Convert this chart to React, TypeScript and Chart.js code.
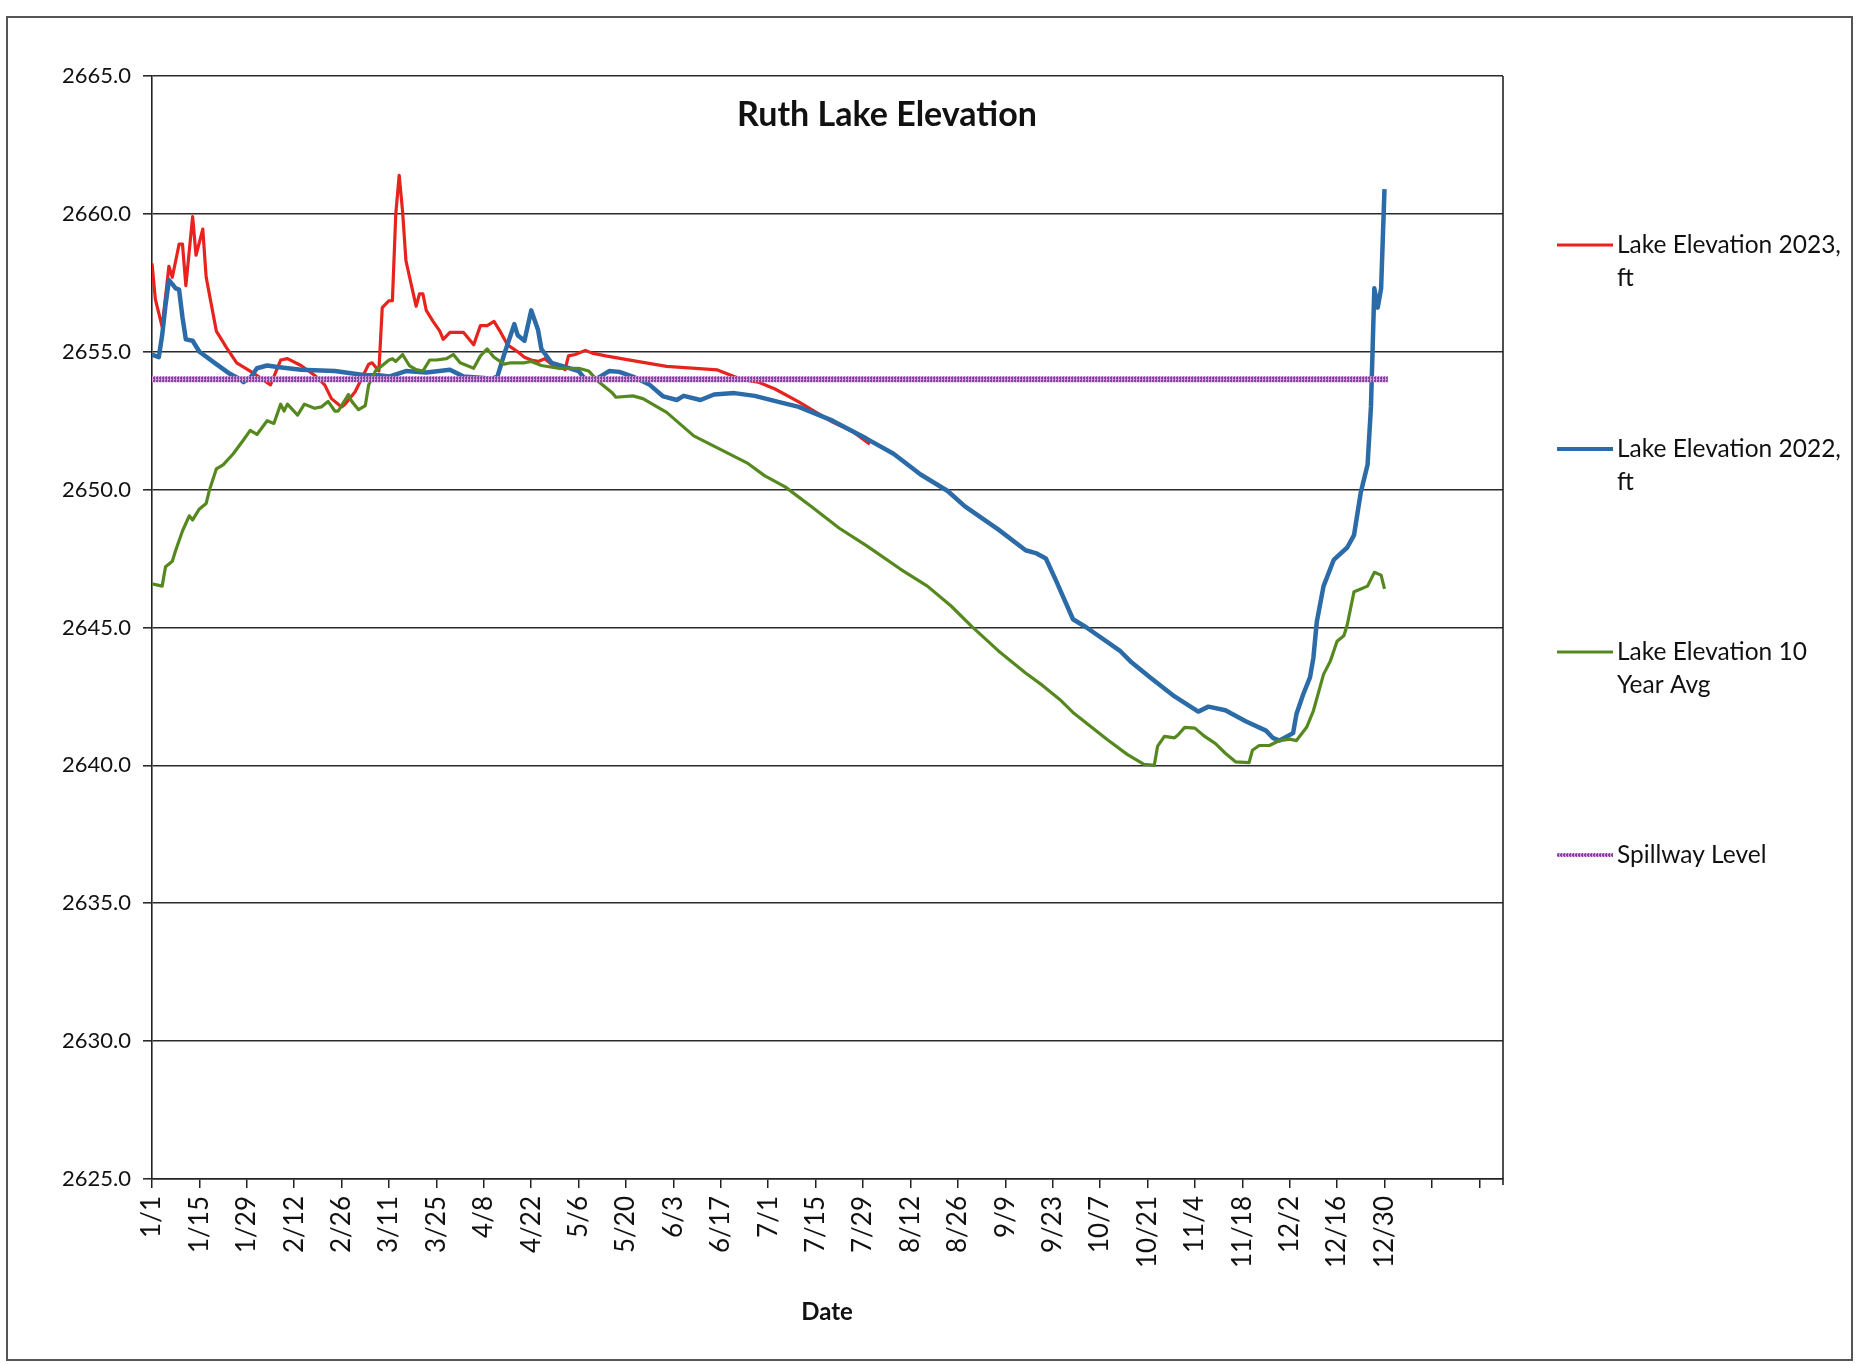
import React, { useEffect, useRef } from 'react';
import { Chart, registerables } from 'chart.js';

Chart.register(...registerables);

const chartTitle = 'Ruth Lake Elevation';
const xAxisTitle = 'Date';

const xTickLabels = ['1/1', '1/15', '1/29', '2/12', '2/26', '3/11', '3/25', '4/8', '4/22', '5/6', '5/20', '6/3', '6/17', '7/1', '7/15', '7/29', '8/12', '8/26', '9/9', '9/23', '10/7', '10/21', '11/4', '11/18', '12/2', '12/16', '12/30'];
const tickStepDays = 14;
const axisDayMax = 399;
const yMin = 2625;
const yMax = 2665;
const yStep = 5;

const seriesNames = ['Lake Elevation 2023, ft', 'Lake Elevation 2022, ft', 'Lake Elevation 10 Year Avg', 'Spillway Level'];

// Lake Elevation 2023, ft (day of year index, elevation)
const days2023 = [0, 1, 3, 5, 6, 8, 9, 10, 12, 13, 15, 16, 18, 19, 22, 25, 29, 32, 35, 38, 40, 44, 48, 51, 53, 56, 57, 60, 62, 64, 65, 67, 68, 70, 71, 72, 73, 74, 75, 77, 78, 79, 80, 81, 83, 85, 86, 88, 90, 92, 93, 95, 97, 99, 101, 103, 105, 108, 110, 112, 114, 116, 118, 121, 122, 123, 125, 128, 130, 134, 142, 152, 167, 174, 179, 184, 191, 201, 207, 212];
const elev2023 = [2658.2, 2656.9, 2655.9, 2658.1, 2657.7, 2658.9, 2658.9, 2657.4, 2659.9, 2658.5, 2659.45, 2657.7, 2656.4, 2655.75, 2655.15, 2654.6, 2654.3, 2654.05, 2653.8, 2654.7, 2654.75, 2654.5, 2654.15, 2653.8, 2653.3, 2653.0, 2653.1, 2653.55, 2654.05, 2654.55, 2654.6, 2654.3, 2656.6, 2656.85, 2656.85, 2660.0, 2661.4, 2660.1, 2658.3, 2657.2, 2656.65, 2657.1, 2657.1, 2656.5, 2656.1, 2655.75, 2655.45, 2655.7, 2655.7, 2655.7, 2655.55, 2655.25, 2655.95, 2655.95, 2656.1, 2655.7, 2655.25, 2655.0, 2654.8, 2654.7, 2654.65, 2654.75, 2654.55, 2654.45, 2654.35, 2654.85, 2654.9, 2655.05, 2654.95, 2654.85, 2654.68, 2654.47, 2654.34, 2654.0, 2653.9, 2653.65, 2653.18, 2652.45, 2652.1, 2651.65];

// Lake Elevation 2022, ft
const days2022 = [0, 2, 3, 4, 5, 6, 7, 8, 9, 10, 12, 14, 19, 23, 26, 27, 29, 31, 34, 37, 44, 54, 63, 67, 70, 75, 81, 88, 92, 98, 100, 102, 104, 107, 108, 110, 112, 114, 115, 118, 122, 126, 128, 131, 135, 138, 142, 147, 151, 155, 157, 162, 166, 172, 178, 185, 191, 201, 211, 219, 227, 235, 240, 250, 258, 261, 264, 267, 272, 276, 286, 289, 295, 302, 309, 312, 317, 323, 329, 331, 333, 337, 338, 340, 342, 343, 344, 346, 349, 353, 355, 357, 359, 360, 361, 362, 363, 364];
const elev2022 = [2654.9, 2654.8, 2655.6, 2656.7, 2657.6, 2657.45, 2657.3, 2657.25, 2656.25, 2655.45, 2655.4, 2655.0, 2654.55, 2654.2, 2654.0, 2653.9, 2654.05, 2654.4, 2654.5, 2654.45, 2654.35, 2654.3, 2654.15, 2654.15, 2654.1, 2654.3, 2654.25, 2654.35, 2654.1, 2654.05, 2654.0, 2654.1, 2654.9, 2656.0, 2655.6, 2655.4, 2656.5, 2655.8, 2655.1, 2654.6, 2654.45, 2654.3, 2654.0, 2654.0, 2654.3, 2654.27, 2654.1, 2653.8, 2653.38, 2653.25, 2653.4, 2653.25, 2653.45, 2653.5, 2653.4, 2653.18, 2653.0, 2652.5, 2651.85, 2651.3, 2650.55, 2649.95, 2649.4, 2648.55, 2647.8, 2647.7, 2647.5, 2646.7, 2645.3, 2645.0, 2644.14, 2643.77, 2643.17, 2642.5, 2641.95, 2642.13, 2642.0, 2641.6, 2641.26, 2641.0, 2640.9, 2641.17, 2641.86, 2642.58, 2643.19, 2643.9, 2645.2, 2646.5, 2647.45, 2647.9, 2648.35, 2649.9, 2650.9, 2653.0, 2657.3, 2656.6, 2657.3, 2660.9];

// Lake Elevation 10 Year Avg
const daysAvg = [0, 3, 4, 6, 7, 9, 11, 12, 14, 16, 17, 19, 21, 24, 27, 29, 31, 34, 36, 38, 39, 40, 43, 45, 48, 50, 52, 54, 55, 58, 59, 61, 63, 64, 66, 67, 70, 71, 72, 74, 76, 78, 80, 82, 84, 87, 89, 91, 95, 97, 99, 101, 104, 106, 110, 112, 115, 120, 126, 129, 132, 136, 137, 142, 145, 152, 160, 168, 176, 181, 187, 195, 203, 211, 221, 229, 236, 242, 250, 258, 263, 268, 272, 282, 288, 293, 296, 297, 299, 302, 303, 305, 308, 311, 314, 317, 320, 324, 325, 327, 330, 333, 336, 338, 341, 343, 346, 348, 350, 352, 353, 355, 357, 359, 361, 363, 364];
const elevAvg = [2646.58, 2646.5, 2647.2, 2647.4, 2647.8, 2648.5, 2649.05, 2648.9, 2649.3, 2649.5, 2650.0, 2650.75, 2650.9, 2651.3, 2651.8, 2652.15, 2652.0, 2652.5, 2652.4, 2653.1, 2652.85, 2653.1, 2652.7, 2653.1, 2652.95, 2653.0, 2653.2, 2652.85, 2652.85, 2653.45, 2653.2, 2652.9, 2653.05, 2653.8, 2654.3, 2654.4, 2654.7, 2654.75, 2654.65, 2654.9, 2654.5, 2654.35, 2654.3, 2654.7, 2654.7, 2654.75, 2654.9, 2654.6, 2654.4, 2654.85, 2655.1, 2654.8, 2654.55, 2654.6, 2654.6, 2654.65, 2654.5, 2654.4, 2654.4, 2654.3, 2653.9, 2653.5, 2653.35, 2653.4, 2653.3, 2652.8, 2651.95, 2651.45, 2650.95, 2650.5, 2650.1, 2649.36, 2648.6, 2647.97, 2647.12, 2646.5, 2645.78, 2645.05, 2644.15, 2643.35, 2642.9, 2642.4, 2641.92, 2640.95, 2640.4, 2640.04, 2640.0, 2640.7, 2641.05, 2641.0, 2641.1, 2641.38, 2641.35, 2641.04, 2640.8, 2640.44, 2640.13, 2640.1, 2640.55, 2640.72, 2640.72, 2640.9, 2640.95, 2640.9, 2641.38, 2641.98, 2643.3, 2643.78, 2644.5, 2644.7, 2645.1, 2646.3, 2646.4, 2646.5, 2647.0, 2646.9, 2646.4];

// Spillway Level
const daysSpill = [0, 365];
const elevSpill = [2654.0, 2654.0];

const seriesColors = ['#e8221c', '#2b6ba8', '#55891f', '#7b4b9c'];
const seriesWidths = [3.2, 4.5, 3.2, 6];

const FONT = 'Lato, "Open Sans", sans-serif';

function toPoints(days: number[], values: number[]) {
  return days.map((d, i) => ({ x: d, y: values[i] }));
}

export default function App() {
  const ref = useRef<HTMLCanvasElement>(null);

  useEffect(() => {
    const canvas = ref.current;
    if (!canvas) return;
    const ctx = canvas.getContext('2d')!;

    const tile = document.createElement('canvas');
    tile.width = 3;
    tile.height = 3;
    const tctx = tile.getContext('2d')!;
    tctx.fillStyle = '#7b4b9c';
    tctx.fillRect(0, 0, 3, 3);
    tctx.fillStyle = '#e39ae2';
    tctx.fillRect(2, 0, 1, 3);
    tctx.fillRect(0, 1, 1, 1);
    const spillPattern = ctx.createPattern(tile, 'repeat') as CanvasPattern;

    const strokes: (string | CanvasPattern)[] = [seriesColors[0], seriesColors[1], seriesColors[2], spillPattern];

    const decor = {
      id: 'decor',
      beforeDraw(chart: any) {
        const c = chart.ctx;
        c.save();
        c.fillStyle = '#ffffff';
        c.fillRect(0, 0, chart.width, chart.height);
        c.strokeStyle = '#555';
        c.lineWidth = 2;
        c.strokeRect(7, 17, 1845, 1343);
        c.restore();
      },
      afterDraw(chart: any) {
        const c = chart.ctx;
        const area = chart.chartArea;
        c.save();
        c.strokeStyle = '#222';
        c.lineWidth = 1.6;
        c.beginPath();
        c.moveTo(area.right, area.top);
        c.lineTo(area.right, area.bottom + 6);
        c.stroke();

        c.fillStyle = '#111';
        c.textAlign = 'center';
        c.textBaseline = 'middle';
        c.font = `bold 34px ${FONT}`;
        c.fillText(chartTitle, 887, 115);
        c.font = `bold 24px ${FONT}`;
        c.fillText(xAxisTitle, 827, 1312);

        // legend
        const legendY = [245, 449, 652, 855];
        const lineX0 = 1557;
        const lineX1 = 1613;
        const textX = 1617;
        c.font = `24.5px ${FONT}`;
        c.textAlign = 'left';
        chart.data.datasets.forEach((ds: any, i: number) => {
          const y = legendY[i];
          c.strokeStyle = ds.borderColor;
          c.lineWidth = i === 3 ? 4 : Math.min(ds.borderWidth, 4);
          c.beginPath();
          c.moveTo(lineX0, y);
          c.lineTo(lineX1, y);
          c.stroke();
          const words = String(ds.label).split(' ');
          const lines: string[] = [];
          let cur = '';
          words.forEach((w) => {
            const test = cur ? cur + ' ' + w : w;
            if (c.measureText(test).width > 232 && cur) {
              lines.push(cur);
              cur = w;
            } else {
              cur = test;
            }
          });
          if (cur) lines.push(cur);
          c.fillStyle = '#111';
          lines.forEach((ln, k) => c.fillText(ln, textX, y + k * 33));
        });
        c.restore();
      },
    };

    const datasets = [
      { days: days2023, vals: elev2023 },
      { days: days2022, vals: elev2022 },
      { days: daysAvg, vals: elevAvg },
      { days: daysSpill, vals: elevSpill },
    ].map((s, i) => ({
      label: seriesNames[i],
      data: toPoints(s.days, s.vals),
      borderColor: strokes[i] as any,
      backgroundColor: strokes[i] as any,
      borderWidth: seriesWidths[i],
      pointRadius: 0,
      tension: 0,
      fill: false,
      borderJoinStyle: 'round' as const,
      borderCapStyle: 'butt' as const,
      order: 4 - i,
    }));

    const chart = new Chart(canvas, {
      type: 'line',
      data: { datasets },
      options: {
        animation: false,
        responsive: false,
        maintainAspectRatio: false,
        layout: { padding: { left: 0, top: 76, right: 357, bottom: 0 } },
        plugins: {
          legend: { display: false },
          tooltip: { enabled: false },
          title: { display: false },
        },
        scales: {
          x: {
            type: 'linear',
            min: 0,
            max: axisDayMax,
            afterBuildTicks: (s: any) => {
              const n = Math.floor(axisDayMax / tickStepDays);
              s.ticks = Array.from({ length: n + 1 }, (_, i) => ({ value: i * tickStepDays }));
            },
            afterFit: (s: any) => {
              s.height = 185;
            },
            ticks: {
              autoSkip: false,
              minRotation: 90,
              maxRotation: 90,
              padding: 8,
              color: '#111',
              font: { family: FONT, size: 26 },
              callback: (v: any) => {
                const i = Math.round(Number(v) / tickStepDays);
                return xTickLabels[i] ?? '';
              },
            },
            grid: { drawOnChartArea: false, drawTicks: true, tickLength: 9, color: '#222', lineWidth: 1.5 },
            border: { display: true, color: '#222', width: 1.6 },
          },
          y: {
            type: 'linear',
            min: yMin,
            max: yMax,
            afterFit: (s: any) => {
              s.width = 152;
            },
            ticks: {
              stepSize: yStep,
              padding: 12,
              color: '#111',
              font: { family: FONT, size: 22 },
              callback: (v: any) => Number(v).toFixed(1),
            },
            grid: { color: '#2b2b2b', lineWidth: 1.6, drawTicks: true, tickLength: 9 },
            border: { display: true, color: '#222', width: 1.6 },
          },
        },
      },
      plugins: [decor],
    });

    return () => chart.destroy();
  }, []);

  return (
    <canvas
      ref={ref}
      width={1860}
      height={1364}
      style={{ position: 'absolute', left: 0, top: 0, display: 'block' }}
    />
  );
}
